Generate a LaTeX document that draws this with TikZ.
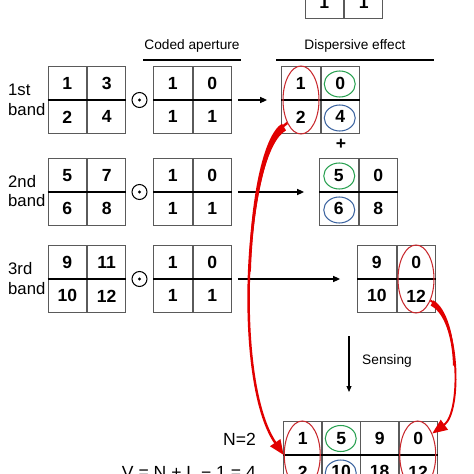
\documentclass[tikz,border=0pt]{standalone}
\usepackage{fontspec}
\setmainfont{Liberation Sans}
\usepackage{tikz}
\usetikzlibrary{arrows.meta,positioning,shapes.geometric}
\definecolor{gridgray}{RGB}{90,90,90}
\definecolor{ringred}{RGB}{200,40,45}
\definecolor{ringgreen}{RGB}{40,160,80}
\definecolor{ringblue}{RGB}{60,100,160}
\definecolor{arrowred}{RGB}{225,0,0}

\begin{document}
\begin{tikzpicture}[
    x=0.02cm, y=-0.02cm,
    cell/.style={rectangle, draw=gridgray, line width=0.5pt, minimum width=0.77cm, minimum height=0.66cm, inner sep=0pt, font=\fontsize{10}{12}\selectfont\bfseries},
    midline/.style={black, line width=0.9pt},
    ring/.style={ellipse, draw=#1, line width=0.6pt, minimum width=0.62cm, minimum height=0.52cm, inner sep=0pt},
    tallring/.style={ring=ringred, minimum width=0.72cm, minimum height=1.36cm},
    bandlabel/.style={align=left, font=\fontsize{9.5}{11.3}\selectfont},
    toplabel/.style={font=\fontsize{7.8}{9}\selectfont},
    eqlabel/.style={font=\fontsize{10}{12}\selectfont},
    rule/.style={black, line width=1pt},
    flow/.style={black, line width=0.8pt, -{Triangle[length=0.14cm,width=0.12cm]}},
    redarrow/.style={draw=arrowred, line width=#1, -{Triangle[length=0.3cm,width=0.24cm]}},
    odot/.style={circle, draw=black, line width=0.6pt, minimum size=0.3cm, inner sep=0pt}
]
\useasboundingbox (0,0) rectangle (474,474);

% Partial matrix at the top edge
\node[cell, anchor=south east] (tp-1) at (344,19) {1};
\node[cell, anchor=south west] (tp-2) at (344,19) {1};

% Column headings
\node[toplabel] (lblcoded) at (192,46) {Coded aperture};
\node[toplabel] (lbldisp) at (355,46) {Dispersive effect};
\draw[rule] (143,60) -- (241,60);
\draw[rule] (276,60) -- (434,60);

% Band labels
\node[bandlabel, anchor=west] (band1) at (2,100) {1st\\band};
\node[bandlabel, anchor=west] (band2) at (2,191) {2nd\\band};
\node[bandlabel, anchor=west] (band3) at (2,278.5) {3rd\\band};

% 2x2 blocks: bands, coded aperture, dispersed
\foreach \nm/\x/\y/\p/\q/\r/\s in {
    in1/87/100/1/3/2/4, in2/87/192/5/7/6/8, in3/87/279/9/11/10/12,
    ca1/192.5/100/1/0/1/1, ca2/192.5/192/1/0/1/1, ca3/192.5/279/1/0/1/1,
    dp1/320.5/100/1/0/2/4, dp2/358.5/192/5/0/6/8, dp3/396.5/279/9/0/10/12}{
  \node[cell, anchor=south east] (\nm-11) at (\x,\y) {\p};
  \node[cell, anchor=south west] (\nm-12) at (\x,\y) {\q};
  \node[cell, anchor=north east] (\nm-21) at (\x,\y) {\r};
  \node[cell, anchor=north west] (\nm-22) at (\x,\y) {\s};
  \draw[midline] (\nm-21.north west) -- (\nm-22.north east);
}

% Element-wise product signs
\foreach \b/\y in {1/100, 2/192, 3/279}{
  \node[odot] (o\b) at (139.5,\y) {};
  \fill (o\b.center) circle[radius=1.6];
}

% Shift arrows
\draw[flow, shorten <=0.12cm, shorten >=0.28cm] (ca1-12.south east) -- (dp1-11.south west);
\draw[flow, shorten <=0.12cm, shorten >=0.30cm] (ca2-12.south east) -- (dp2-11.south west);
\draw[flow, shorten <=0.12cm, shorten >=0.34cm] (ca3-12.south east) -- (dp3-11.south west);

\node[font=\fontsize{10}{12}\selectfont\bfseries] (plus) at (341,144) {+};

% Sensed measurement
\foreach \v [count=\i] in {1,5,9,0}
  \node[cell, anchor=south west] (sm-1\i) at ({283+38.5*(\i-1)},455) {\v};
\foreach \v [count=\i] in {2,10,18,12}
  \node[cell, anchor=north west] (sm-2\i) at ({283+38.5*(\i-1)},455) {\v};
\draw[midline] (sm-21.north west) -- (sm-24.north east);

\node[eqlabel, anchor=east] (nlbl) at (262,439) {N=2};
\node[eqlabel, anchor=east] (vlbl) at (262,472) {V = N + L − 1 = 4};

\coordinate (sensetop) at (349,336);
\coordinate (sensebot) at (349,392);
\draw[black, line width=0.6pt, -{Triangle[length=0.12cm,width=0.1cm]}] (sensetop) -- (sensebot);
\node[toplabel] (lblsense) at (387,361) {Sensing};

% Rings
\node[tallring] (e1) at (301,100) {};
\node[tallring] (e3) at (416,279) {};
\node[tallring] (se1) at (302.25,455) {};
\node[tallring] (se4) at (417.75,455) {};
\node[ring=ringgreen] (g1) at (339.75,84) {};
\node[ring=ringblue] (b1) at (339.75,118) {};
\node[ring=ringgreen] (g2) at (339.25,176) {};
\node[ring=ringblue] (b2) at (339.25,210) {};
\node[ring=ringgreen] (gs) at (340.75,438.5) {};
\node[ring=ringblue] (bs) at (340.75,473) {};

% Curved red arrows with tapered tails
\fill[arrowred] (282,123.6) .. controls (262.7,135.5) and (250,201.75) .. (248.9,271.5)
  -- (250.9,271.5) .. controls (253,201.75) and (266.3,141.5) .. (286,130.4) -- cycle;
\draw[redarrow=1.4pt] (e1.239) .. controls (245,150) and (232,380) .. (se1.west);
\fill[arrowred] (430.6,305.6) .. controls (444.8,312.7) and (452.3,337.75) .. (453,365.6)
  -- (454.8,365.6) .. controls (454.7,337.75) and (447.2,308.3) .. (433.4,300.4) -- cycle;
\draw[redarrow=1.1pt] (e3.304) .. controls (460,318) and (462,412) .. (se4.56);

\end{tikzpicture}
\end{document}
